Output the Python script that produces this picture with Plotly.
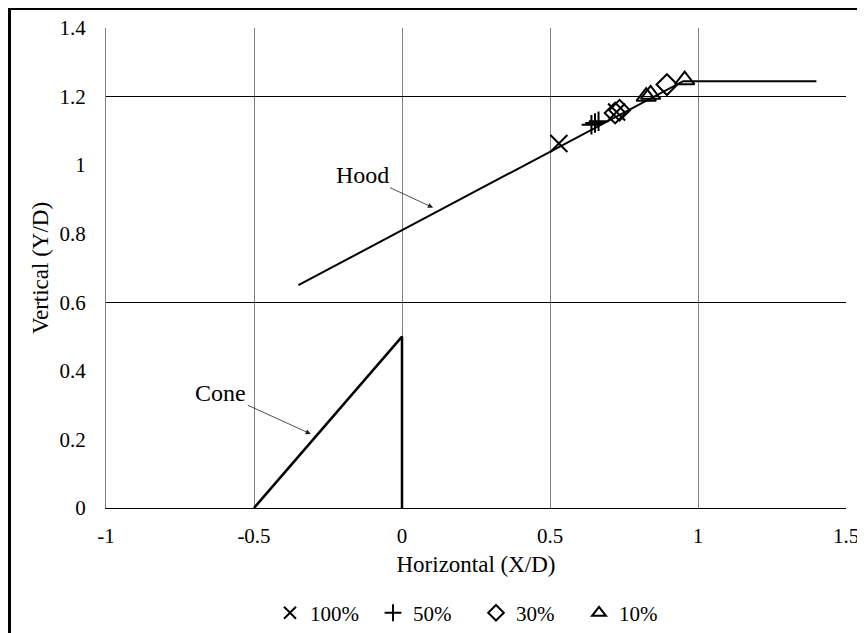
import plotly.graph_objects as go

# ---- data ----
hood_x = [-0.35, 0.95, 1.4]
hood_y = [0.65, 1.245, 1.245]

cone_x = [-0.5, 0.0, 0.0]
cone_y = [0.0, 0.5, 0.0]

p100_x = [0.53, 0.725]
p100_y = [1.063, 1.155]

p50_x = [0.64, 0.652, 0.664]
p50_y = [1.118, 1.123, 1.128]

p30_x = [0.72, 0.735, 0.895]
p30_y = [1.152, 1.160, 1.235]

p10_x = [0.825, 0.84, 0.955]
p10_y = [1.200, 1.206, 1.248]

x_tick_vals = [-1, -0.5, 0, 0.5, 1, 1.5]
x_tick_text = ["-1", "-0.5", "0", "0.5", "1", "1.5"]
y_tick_vals = [0, 0.2, 0.4, 0.6, 0.8, 1.0, 1.2, 1.4]
y_tick_text = ["0", "0.2", "0.4", "0.6", "0.8", "1", "1.2", "1.4"]

FONT = "Liberation Serif"

fig = go.Figure()

fig.add_trace(go.Scatter(x=hood_x, y=hood_y, mode="lines",
                         line=dict(color="black", width=2), showlegend=False,
                         hoverinfo="skip"))
fig.add_trace(go.Scatter(x=cone_x, y=cone_y, mode="lines",
                         line=dict(color="black", width=2.5), showlegend=False,
                         hoverinfo="skip"))

fig.add_trace(go.Scatter(x=p100_x, y=p100_y, mode="markers", name="100%",
                         marker=dict(symbol="x-thin-open", size=17, color="black",
                                     line=dict(color="black", width=2))))
fig.add_trace(go.Scatter(x=p50_x, y=p50_y, mode="markers", name="50%",
                         marker=dict(symbol="cross-thin-open", size=14, color="black",
                                     line=dict(color="black", width=2))))
fig.add_trace(go.Scatter(x=p30_x, y=p30_y, mode="markers", name="30%",
                         marker=dict(symbol="diamond-open", size=16, color="black",
                                     line=dict(color="black", width=2))))
fig.add_trace(go.Scatter(x=p10_x, y=p10_y, mode="markers", name="10%",
                         marker=dict(symbol="triangle-up-open", size=17, color="black",
                                     line=dict(color="black", width=2))))

# secondary axis only to draw the coarse black horizontal grid
fig.add_trace(go.Scatter(x=[None], y=[None], yaxis="y2", showlegend=False,
                         hoverinfo="skip"))

fig.add_annotation(x=0.105, y=0.876, ax=-71, ay=-33, text="Hood",
                   showarrow=True, arrowhead=2, arrowsize=1.3, arrowwidth=0.8,
                   arrowcolor="#222222", font=dict(family=FONT, size=24, color="black"))
fig.add_annotation(x=-0.308, y=0.216, ax=-90, ay=-41, text="Cone",
                   showarrow=True, arrowhead=2, arrowsize=1.3, arrowwidth=0.8,
                   arrowcolor="#222222", font=dict(family=FONT, size=24, color="black"))

# page body has an 8px offset; plot area is placed accordingly
L, T, PW, PH = 98, 20, 740, 480
W, H = 865, 633

# outer chart frame (only its left and top edges fall inside the view)
fig.add_shape(type="rect", xref="paper", yref="paper",
              x0=(1.5 - L) / PW, x1=1.3, y0=-0.6, y1=1 + (T - 0.5) / PH,
              line=dict(color="black", width=3), fillcolor="rgba(0,0,0,0)",
              layer="above")

fig.update_layout(
    width=W, height=H,
    margin=dict(l=L, r=W - L - PW, t=T, b=H - T - PH, autoexpand=False),
    paper_bgcolor="white", plot_bgcolor="white",
    font=dict(family=FONT, size=21, color="black"),
    xaxis=dict(range=[-1, 1.5], tickvals=x_tick_vals, ticktext=x_tick_text,
               showgrid=True, gridcolor="#808080", gridwidth=1,
               zeroline=False, showline=True, linecolor="black", linewidth=1.2,
               ticks="", ticklabelstandoff=9,
               tickfont=dict(family=FONT, size=21, color="black"),
               title=dict(text="Horizontal (X/D)",
                          font=dict(family=FONT, size=23, color="black"), standoff=8),
               automargin=False),
    yaxis=dict(range=[0, 1.4], tickvals=y_tick_vals, ticktext=y_tick_text,
               showgrid=False, zeroline=False, showline=True,
               linecolor="#808080", linewidth=1, ticks="", ticklabelstandoff=15,
               tickfont=dict(family=FONT, size=21, color="black"),
               title=dict(text="Vertical (Y/D)",
                          font=dict(family=FONT, size=23, color="black"), standoff=4),
               automargin=False),
    yaxis2=dict(range=[0, 1.4], overlaying="y", tick0=0, dtick=0.6,
                showgrid=True, gridcolor="black", gridwidth=1,
                showticklabels=False, zeroline=False, showline=False, ticks=""),
    legend=dict(orientation="h", x=0.5, xanchor="center", y=-0.219,
                yanchor="middle", itemsizing="constant", entrywidth=58,
                font=dict(family=FONT, size=21, color="black"), itemwidth=30,
                bgcolor="rgba(0,0,0,0)"),
)

fig.write_html("out.html")
